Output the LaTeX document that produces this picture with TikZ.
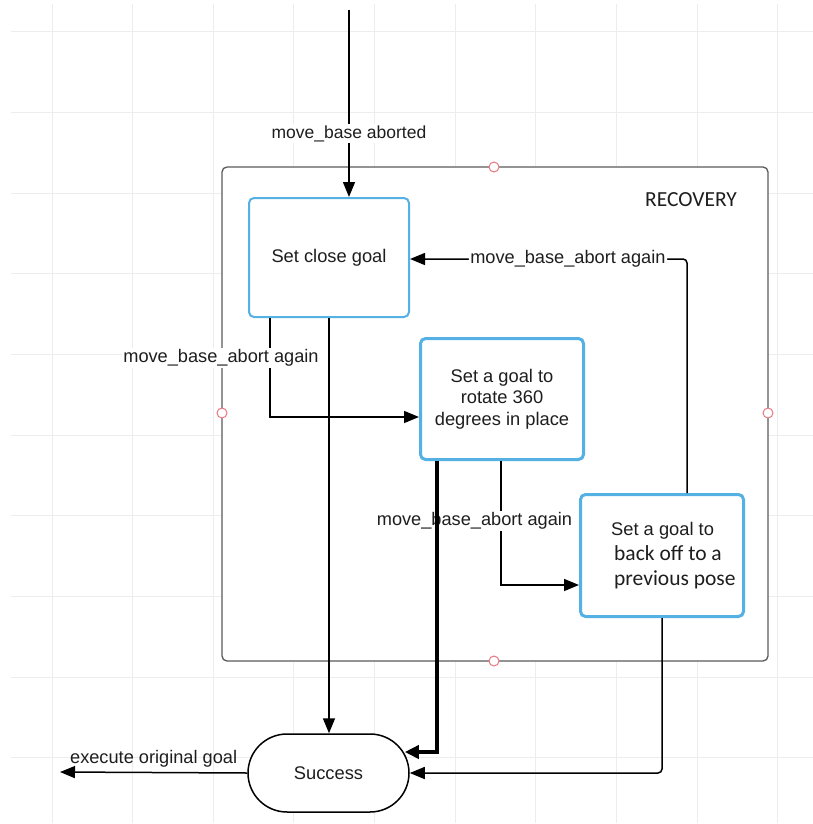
\documentclass[tikz,border=0pt]{standalone}
\usepackage{fontspec}
\setmainfont{Liberation Sans}
\newfontfamily\carlito{Carlito}
\usetikzlibrary{arrows.meta,calc}
\definecolor{boxblue}{RGB}{85,176,228}
\definecolor{gridc}{RGB}{237,237,237}
\definecolor{txt}{RGB}{30,30,30}
\definecolor{cont}{RGB}{90,90,90}
\definecolor{redc}{RGB}{232,120,130}
\begin{document}
\begin{tikzpicture}[x=1pt,y=-1pt,
  arr/.style={draw=black, line width=1.5pt, -{Triangle[length=15pt,width=12pt]}},
  thickarr/.style={draw=black, line width=4.5pt, -{Triangle[length=14pt,width=13pt]}},
  lbl/.style={fill=white, text=txt, inner sep=1.5pt, font=\fontsize{18.2}{21}\selectfont},
  state/.style={draw=boxblue, fill=white, rounded corners=5pt, text=txt, align=center,
    font=\fontsize{18.3}{21.5}\selectfont, inner sep=0pt},
  redmark/.style={draw=redc, line width=1pt, fill=white}
]
\useasboundingbox (0,0) rectangle (813,824);
\fill[white] (0,0) rectangle (813,824);
% grid
\foreach \k in {0,...,9} {
  \draw[gridc, line width=1pt] (11,{32+80.65*\k}) -- (813,{32+80.65*\k});
  \draw[gridc, line width=1pt] ({52+80.65*\k},4) -- ({52+80.65*\k},823);
}
% container
\draw[cont, line width=1.3pt, fill=white, rounded corners=5pt] (222,167) rectangle (768,661);
\draw[redmark] (494,167) circle[radius=5pt];
\draw[redmark] (222,413) circle[radius=5pt];
\draw[redmark] (768,413) circle[radius=5pt];
\draw[redmark] (494,661) circle[radius=5pt];
\node[text=txt, font=\carlito\fontsize{21.5}{25}\selectfont] (rec) at (691,200) {RECOVERY};
% states
\node[state, line width=2pt, minimum width=160pt, minimum height=119pt] (close) at (329,257.5) {Set close goal};
\node[state, line width=3pt, minimum width=163pt, minimum height=121pt] (rotate) at (502,399) {Set a goal to\\rotate 360\\degrees in place};
\node[state, line width=3pt, minimum width=163pt, minimum height=122pt] (backoff) at (662,555.5) {};
\node[anchor=west, align=left, text=txt, inner sep=0pt, font=\fontsize{18.3}{25}\selectfont] (backofftext) at (611,556)
  {Set a goal to\\\hspace*{3pt}{\carlito\fontsize{21.5}{25}\selectfont back off to a}\\\hspace*{3pt}{\carlito\fontsize{21.5}{25}\selectfont previous pose}};
\node[draw=black, line width=1.5pt, fill=white, rounded corners=39pt, minimum width=161pt, minimum height=78pt,
  text=txt, font=\fontsize{18.3}{21.5}\selectfont, inner sep=0pt] (success) at (328.5,773) {Success};
% connectors
\coordinate (topin) at (349,10);
\draw[arr] (topin) -- node[lbl, pos=0.66, font=\fontsize{17.5}{20}\selectfont] (l0) {move\_base aborted} (topin |- close.north);
\coordinate (c1) at (687,259);
\draw[arr, rounded corners=4pt] (backoff.north -| c1) |- node[lbl, pos=0.715] (l1) {move\_base\_abort again} (close.east |- c1);
\coordinate (c2) at (270,417);
\draw[arr] (close.south -| c2) |- node[lbl, pos=0.2, xshift=-49pt] (l2) {move\_base\_abort again} (rotate.west |- c2);
\draw[arr] (close.south) -- (close.south |- success.north);
\coordinate (c4) at (501,585);
\draw[arr] (rotate.south -| c4) |- node[lbl, pos=0.24, xshift=-26.5pt] (l3) {move\_base\_abort again} (backoff.west |- c4);
\coordinate (c3) at (437,752);
\draw[thickarr] (rotate.south -| c3) |- ($(success.east)+(-5,-21)$);
\draw[arr, rounded corners=4pt] (backoff.south) |- (success.east);
\coordinate (out) at (60,772);
\draw[arr] (success.west) -- node[above=1pt, text=txt, font=\fontsize{18.2}{21}\selectfont] (l4) {execute original goal} (out);
\end{tikzpicture}
\end{document}
